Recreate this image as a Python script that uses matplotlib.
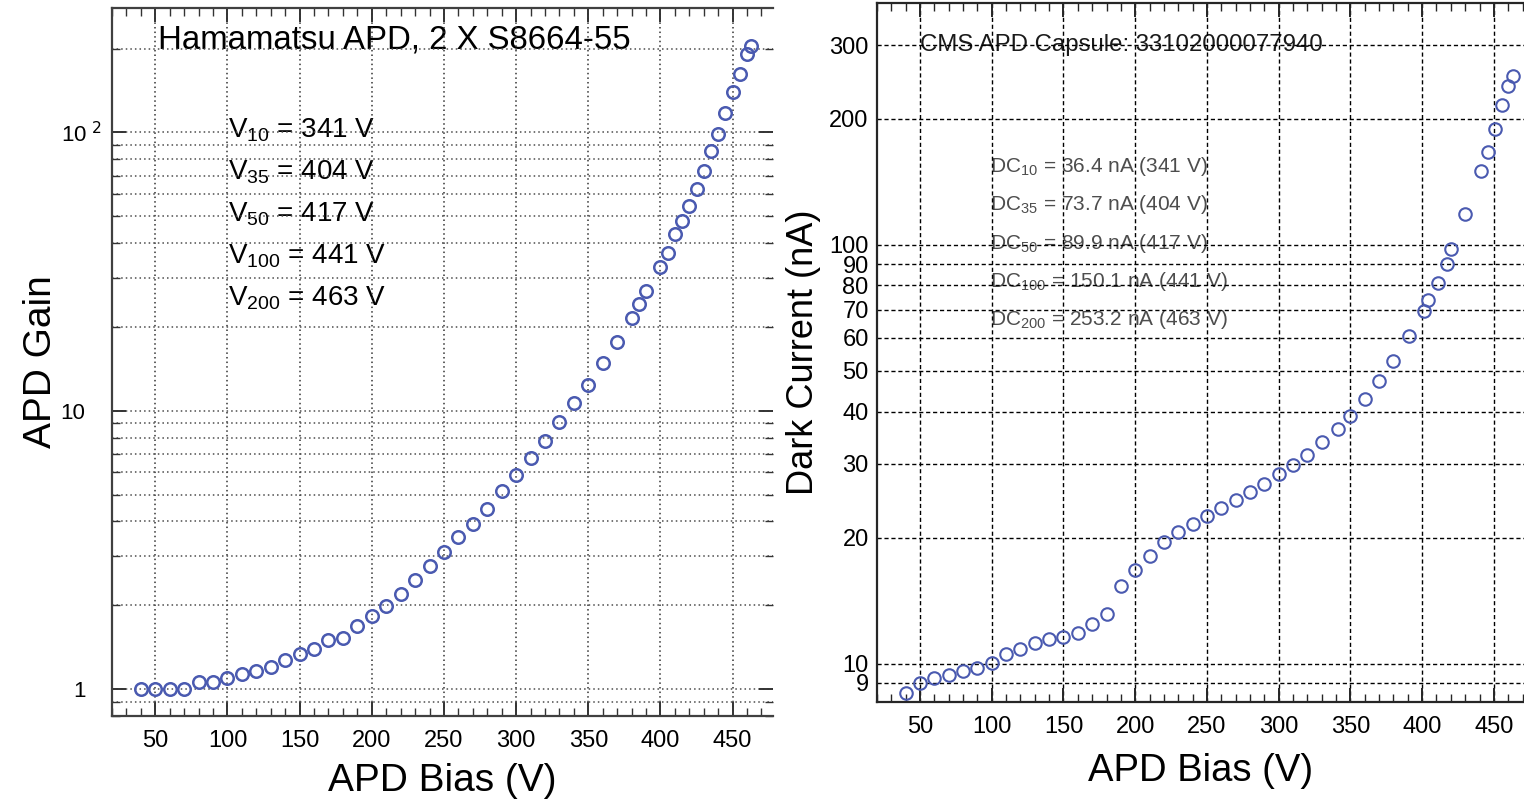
import numpy as np
import matplotlib
matplotlib.use('Agg')
import matplotlib.pyplot as plt
import matplotlib.transforms as mtransforms
from matplotlib.ticker import FixedLocator, FixedFormatter, NullLocator, MultipleLocator

plt.rcParams['font.family'] = ['Liberation Sans', 'DejaVu Sans']

# APD gain vs bias (left panel)
gain_bias = [40, 50, 60, 70, 80, 90, 100, 110, 120, 130, 140, 150, 160, 170,
             180, 190, 200, 210, 220, 230, 240, 250, 260, 270, 280, 290, 300,
             310, 320, 330, 340, 350, 360, 370, 380, 385, 390, 400, 405, 410,
             415, 420, 425, 430, 435, 440, 445, 450, 455, 460, 463]
gain = [1.0, 1.0, 1.0, 1.0, 1.062, 1.062, 1.098, 1.132, 1.164, 1.196, 1.267,
        1.332, 1.396, 1.496, 1.526, 1.68, 1.825, 1.994, 2.20, 2.46, 2.76, 3.10,
        3.51, 3.93, 4.45, 5.14, 5.87, 6.78, 7.8, 9.1, 10.62, 12.36, 14.9, 17.7,
        21.5, 24.1, 26.9, 32.9, 36.8, 43.1, 48.0, 54.2, 62.5, 72.8, 85.9, 98.4,
        117.3, 140.0, 161.7, 191.3, 203.9]

# dark current vs bias (right panel)
dc_bias = [40, 50, 60, 70, 80, 90, 100, 110, 120, 130, 140, 150, 160, 170,
           180, 190, 200, 210, 220, 230, 240, 250, 260, 270, 280, 290, 300,
           310, 320, 330, 341, 350, 360, 370, 380, 391, 401, 404, 411, 417,
           420, 430, 441, 446, 451, 456, 460, 463]
dark_current = [8.5, 8.99, 9.24, 9.38, 9.59, 9.78, 10.06, 10.56, 10.86, 11.2,
                11.43, 11.58, 11.84, 12.46, 13.14, 15.33, 16.71, 18.12, 19.49,
                20.6, 21.6, 22.57, 23.59, 24.55, 25.76, 26.81, 28.44, 29.86,
                31.56, 33.8, 36.4, 38.98, 42.96, 47.3, 52.8, 60.6, 69.7, 73.7,
                81.0, 89.9, 97.6, 118.6, 150.1, 166.7, 189.4, 215.4, 239.3,
                253.2]

gain_title = 'Hamamatsu APD, 2 X S8664-55'
gain_notes = [('10', '341'), ('35', '404'), ('50', '417'), ('100', '441'), ('200', '463')]
dc_title = 'CMS APD Capsule: 33102000077940'
dc_notes = [('10', '36.4', '341'), ('35', '73.7', '404'), ('50', '89.9', '417'),
            ('100', '150.1', '441'), ('200', '253.2', '463')]
x_ticks = [50, 100, 150, 200, 250, 300, 350, 400, 450]
gain_yticks = [1, 10, 100]
gain_ylabels = ['1', '10', r'10$^{\ 2}$']
dc_yticks = [9, 10, 20, 30, 40, 50, 60, 70, 80, 90, 100, 200, 300]

marker_color = '#4a5ab0'

fig = plt.figure(figsize=(15.24, 8.02), dpi=100)

# ---------------- left: gain ----------------
ax1 = fig.add_axes([112 / 1524, 86 / 802, 661 / 1524, 708 / 802])
ax1.plot(gain_bias, gain, linestyle='none', marker='o', markersize=9,
         markerfacecolor='none', markeredgecolor=marker_color, markeredgewidth=1.8,
         zorder=3)
ax1.set_yscale('log')
ax1.set_xlim(20, 478)
ax1.set_ylim(0.8, 280)
ax1.xaxis.set_major_locator(FixedLocator(x_ticks))
ax1.xaxis.set_minor_locator(MultipleLocator(10))
ax1.yaxis.set_major_locator(FixedLocator(gain_yticks))
ax1.yaxis.set_major_formatter(FixedFormatter(gain_ylabels))
minor = [m * d for d in (0.1, 1, 10, 100) for m in range(2, 10)]
ax1.yaxis.set_minor_locator(FixedLocator(minor))
ax1.yaxis.set_minor_formatter(FixedFormatter([''] * len(minor)))
ax1.grid(True, which='major', axis='x', linestyle=(0, (1, 2)), color='0.2', linewidth=1.1)
ax1.grid(True, which='both', axis='y', linestyle=(0, (1, 2)), color='0.3', linewidth=1.1)
ax1.set_axisbelow('line')
ax1.spines['right'].set_visible(False)
for s in ('left', 'bottom', 'top'):
    ax1.spines[s].set_linewidth(1.6)
    ax1.spines[s].set_color('0.25')
ax1.tick_params(which='both', direction='in', top=True, right=True, color='0.2')
ax1.tick_params(which='major', length=10, width=1.4)
ax1.tick_params(which='minor', length=6, width=1.0)
ax1.tick_params(axis='x', which='major', pad=10, labelsize=17)
ax1.tick_params(axis='y', which='major', pad=19, labelsize=16)
# shift the 10^2 label so its mantissa lines up with the "10" below it
shift = mtransforms.ScaledTranslation(11 / 72, 0, fig.dpi_scale_trans)
tk = ax1.yaxis.get_major_ticks()
tk[2].label1.set_transform(tk[2].label1.get_transform() + shift)
ax1.set_xlabel('APD Bias (V)', fontsize=28, labelpad=8)
ax1.set_ylabel('APD Gain', fontsize=28, labelpad=1)

ax1.text(0.0696, 0.955, gain_title, transform=ax1.transAxes, fontsize=23.8,
         va='center', ha='left', zorder=1)
for i, (sub, v) in enumerate(gain_notes):
    ax1.text(0.1755, 0.8178 - i * 0.0593, r'V$_{\mathregular{%s}}$ = %s V' % (sub, v),
             transform=ax1.transAxes, fontsize=20, va='baseline', ha='left', zorder=1)

# ---------------- right: dark current ----------------
ax2 = fig.add_axes([877 / 1524, 100 / 802, 647 / 1524, 699 / 802])
ax2.plot(dc_bias, dark_current, linestyle='none', marker='o', markersize=9,
         markerfacecolor='none', markeredgecolor=marker_color, markeredgewidth=1.5,
         zorder=3)
ax2.set_yscale('log')
ax2.set_xlim(20, 471)
ax2.set_ylim(8.1, 378)
ax2.xaxis.set_major_locator(FixedLocator(x_ticks))
ax2.xaxis.set_minor_locator(MultipleLocator(10))
ax2.yaxis.set_major_locator(FixedLocator(dc_yticks))
ax2.yaxis.set_major_formatter(FixedFormatter([str(v) for v in dc_yticks]))
ax2.yaxis.set_minor_locator(NullLocator())
ax2.grid(True, which='major', linestyle=(0, (3, 2)), color='k', linewidth=1.0)
ax2.set_axisbelow('line')
ax2.spines['right'].set_visible(False)
for s in ('left', 'bottom', 'top'):
    ax2.spines[s].set_linewidth(1.6)
    ax2.spines[s].set_color('0.15')
ax2.tick_params(which='both', direction='in', top=True, color='0.15')
ax2.tick_params(which='major', length=10, width=1.4)
ax2.tick_params(which='minor', length=6, width=1.0)
ax2.tick_params(axis='x', which='major', pad=10, labelsize=17)
ax2.tick_params(axis='y', which='major', pad=6, left=False, labelsize=17)
ax2.set_xlabel('APD Bias (V)', fontsize=27.5, labelpad=11)
ax2.set_ylabel('Dark Current (nA)', fontsize=26, labelpad=6)

ax2.text(0.0667, 0.931, dc_title, transform=ax2.transAxes, fontsize=17.3,
         va='baseline', ha='left', zorder=1, color='0.1')
for i, (sub, cur, v) in enumerate(dc_notes):
    ax2.text(0.175, 0.758 - i * 0.0547,
             r'DC$_{\mathregular{%s}}$ = %s nA (%s V)' % (sub, cur, v),
             transform=ax2.transAxes, fontsize=15, va='baseline', ha='left',
             zorder=1, color='0.3')

fig.savefig('out.png', dpi=100)
